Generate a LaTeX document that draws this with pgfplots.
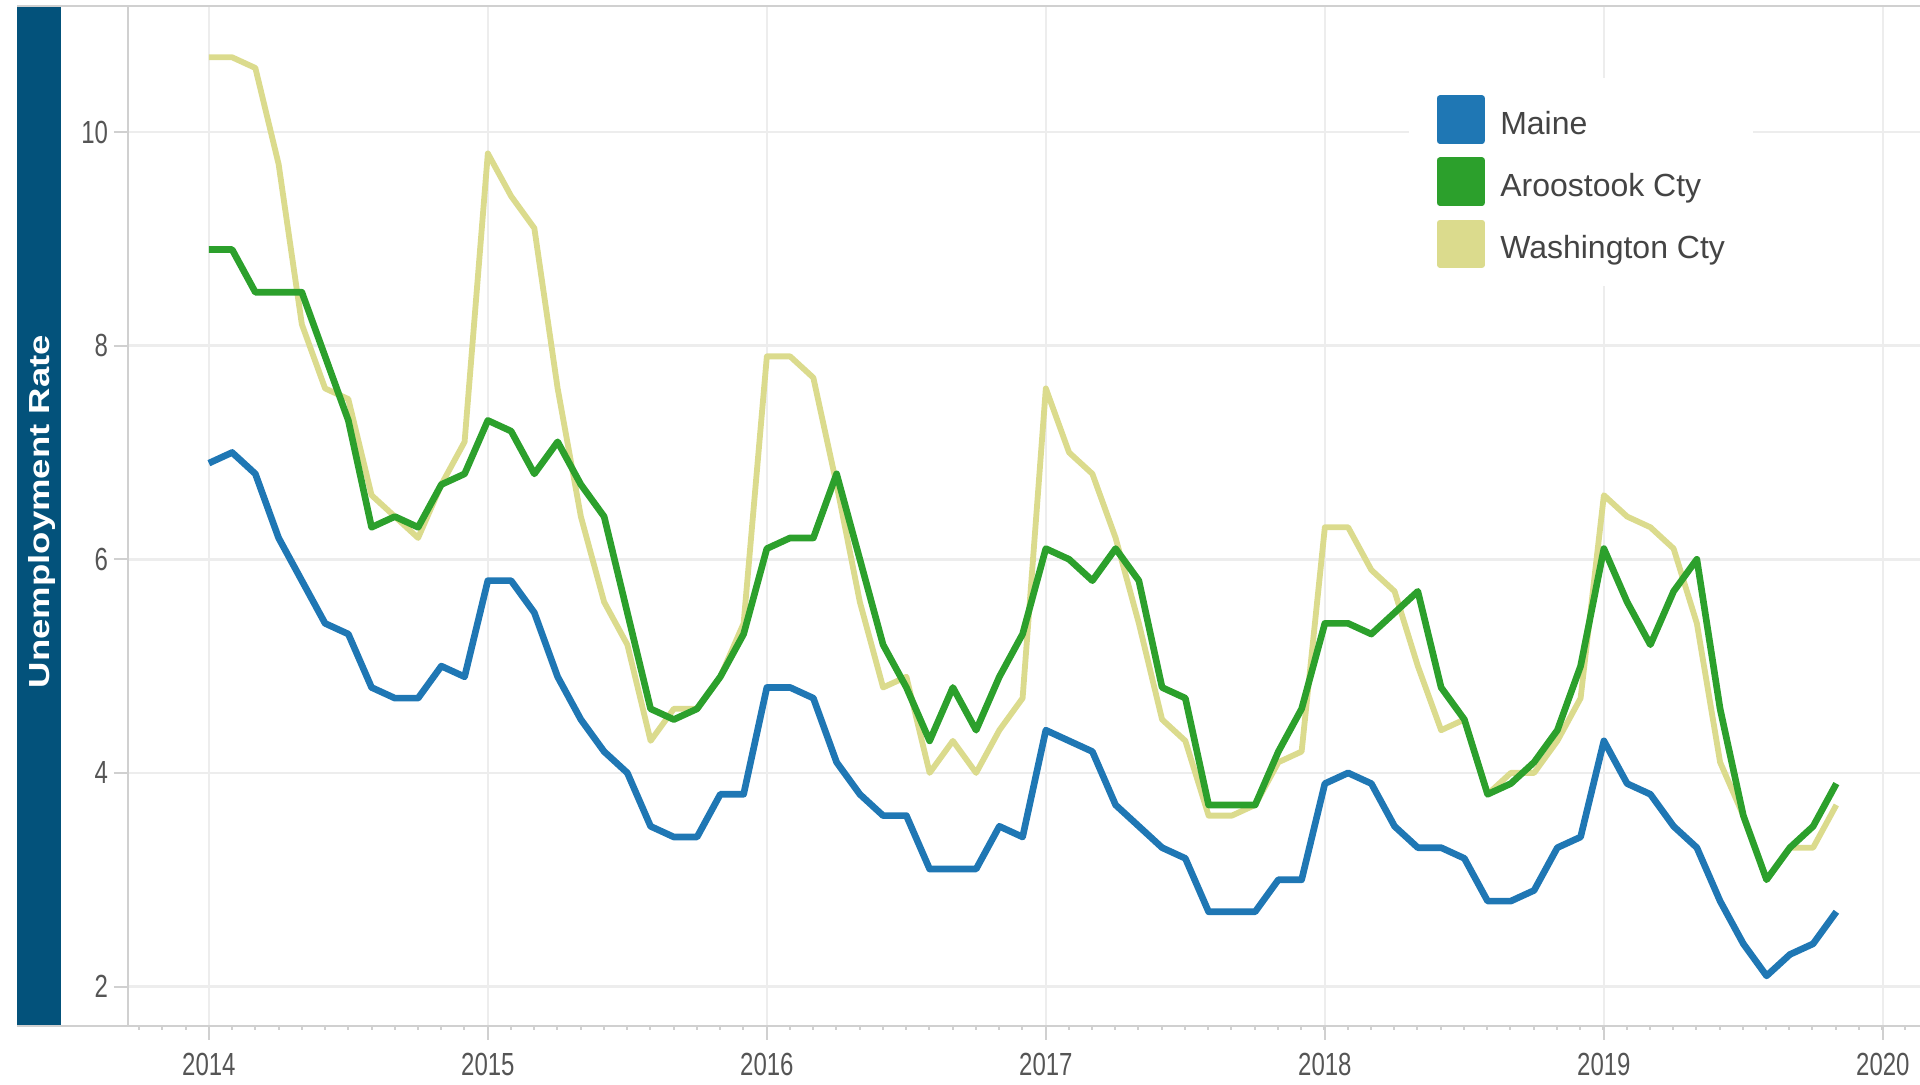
\documentclass[border=0pt]{standalone}
\usepackage{fontspec}
\setmainfont{Liberation Sans}
\newfontfamily\tickfont[FakeStretch=0.75]{Liberation Sans}
\newfontfamily\titlefont[FakeStretch=1.26]{Liberation Sans Bold}
\usepackage{pgfplots}
\pgfplotsset{compat=1.18}
\usepackage{pgfplotstable}

\definecolor{cMaine}{HTML}{1F77B4}
\definecolor{cAroos}{HTML}{2CA02C}
\definecolor{cWash}{HTML}{DBDB8D}
\definecolor{band}{HTML}{03527B}
\definecolor{gridc}{HTML}{EDEDED}
\definecolor{axisc}{HTML}{D0D0D0}
\definecolor{txt}{HTML}{555555}
\definecolor{legtxt}{HTML}{444444}

% m = months since Jan 2014
\pgfplotstableread{
m  maine aroos wash
0  6.9 8.9 10.7
1  7.0 8.9 10.7
2  6.8 8.5 10.6
3  6.2 8.5 9.7
4  5.8 8.5 8.2
5  5.4 7.9 7.6
6  5.3 7.3 7.5
7  4.8 6.3 6.6
8  4.7 6.4 6.4
9  4.7 6.3 6.2
10 5.0 6.7 6.7
11 4.9 6.8 7.1
12 5.8 7.3 9.8
13 5.8 7.2 9.4
14 5.5 6.8 9.1
15 4.9 7.1 7.6
16 4.5 6.7 6.4
17 4.2 6.4 5.6
18 4.0 5.5 5.2
19 3.5 4.6 4.3
20 3.4 4.5 4.6
21 3.4 4.6 4.6
22 3.8 4.9 4.9
23 3.8 5.3 5.4
24 4.8 6.1 7.9
25 4.8 6.2 7.9
26 4.7 6.2 7.7
27 4.1 6.8 6.7
28 3.8 6.0 5.6
29 3.6 5.2 4.8
30 3.6 4.8 4.9
31 3.1 4.3 4.0
32 3.1 4.8 4.3
33 3.1 4.4 4.0
34 3.5 4.9 4.4
35 3.4 5.3 4.7
36 4.4 6.1 7.6
37 4.3 6.0 7.0
38 4.2 5.8 6.8
39 3.7 6.1 6.2
40 3.5 5.8 5.4
41 3.3 4.8 4.5
42 3.2 4.7 4.3
43 2.7 3.7 3.6
44 2.7 3.7 3.6
45 2.7 3.7 3.7
46 3.0 4.2 4.1
47 3.0 4.6 4.2
48 3.9 5.4 6.3
49 4.0 5.4 6.3
50 3.9 5.3 5.9
51 3.5 5.5 5.7
52 3.3 5.7 5.0
53 3.3 4.8 4.4
54 3.2 4.5 4.5
55 2.8 3.8 3.8
56 2.8 3.9 4.0
57 2.9 4.1 4.0
58 3.3 4.4 4.3
59 3.4 5.0 4.7
60 4.3 6.1 6.6
61 3.9 5.6 6.4
62 3.8 5.2 6.3
63 3.5 5.7 6.1
64 3.3 6.0 5.4
65 2.8 4.6 4.1
66 2.4 3.6 3.6
67 2.1 3.0 3.0
68 2.3 3.3 3.3
69 2.4 3.5 3.3
70 2.7 3.9 3.7
}\data

\begin{document}
\begin{tikzpicture}
\useasboundingbox (0pt,0pt) rectangle (576pt,325.2pt);
\fill[band] (5.1pt,17.55pt) rectangle (18.3pt,323.55pt);
\node[rotate=90,anchor=base,inner sep=0pt,text=white,font=\titlefont\fontsize{8.7}{10}\selectfont] at (15pt,171.75pt) {Unemployment Rate};
\begin{axis}[
  at={(38.31pt,17.55pt)}, anchor=south west,
  width=537.69pt, height=306pt, scale only axis,
  xmin=2013.709, xmax=2020.133,
  ymin=1.635, ymax=11.185,
  xtick={2014,2015,2016,2017,2018,2019,2020},
  minor xtick={2013.75,2013.8333333,...,2020.1},
  ytick={2,4,6,8,10},
  xtick pos=lower, ytick pos=left,
  tick align=outside,
  major tick length=4.2pt, minor tick length=1.3pt,
  tick style={axisc, line width=0.6pt},
  axis line style={draw=none},
  grid=major,
  major grid style={gridc, line width=0.8pt},
  minor grid style={draw=none},
  /pgf/number format/assume math mode=true,
  /pgf/number format/1000 sep={},
  xticklabel style={font=\tickfont\fontsize{9.6}{11}\selectfont, text=txt, inner sep=0pt, anchor=north, yshift=-4pt},
  yticklabel style={font=\tickfont\fontsize{9.6}{11}\selectfont, text=txt, inner sep=0pt, anchor=east, xshift=-1.5pt},
  legend style={at={(0.7143,0.9299)}, anchor=north west, fill=white, draw=none,
    inner xsep=8.4pt, inner ysep=3.3pt, row sep=0pt, column sep=4.5pt,
    font=\fontsize{9.6}{11.5}\selectfont, text=legtxt,
    nodes={inner sep=0pt, text height=13.7pt, text depth=4.9pt}},
  legend cell align=left,
  reverse legend,
  legend image code/.code={\fill[#1] (0pt,-6.3pt) rectangle (12.6pt,6.3pt);},
]
\addplot[cWash, line width=1.75pt, line join=round, no marks] table[x expr=2014+\thisrow{m}/12, y=wash]{\data};
\addlegendentry{Washington Cty}
\addplot[cAroos, line width=2pt, line join=round, no marks] table[x expr=2014+\thisrow{m}/12, y=aroos]{\data};
\addlegendentry{Aroostook Cty}
\addplot[cMaine, line width=2pt, line join=round, no marks] table[x expr=2014+\thisrow{m}/12, y=maine]{\data};
\addlegendentry{Maine}
\end{axis}
\draw[axisc, line width=0.6pt] (5.1pt,17.55pt) -- (576pt,17.55pt);
\draw[axisc, line width=0.6pt] (5.1pt,323.55pt) -- (576pt,323.55pt);
\draw[axisc, line width=0.6pt] (38.31pt,17.55pt) -- (38.31pt,323.55pt);
\end{tikzpicture}
\end{document}
